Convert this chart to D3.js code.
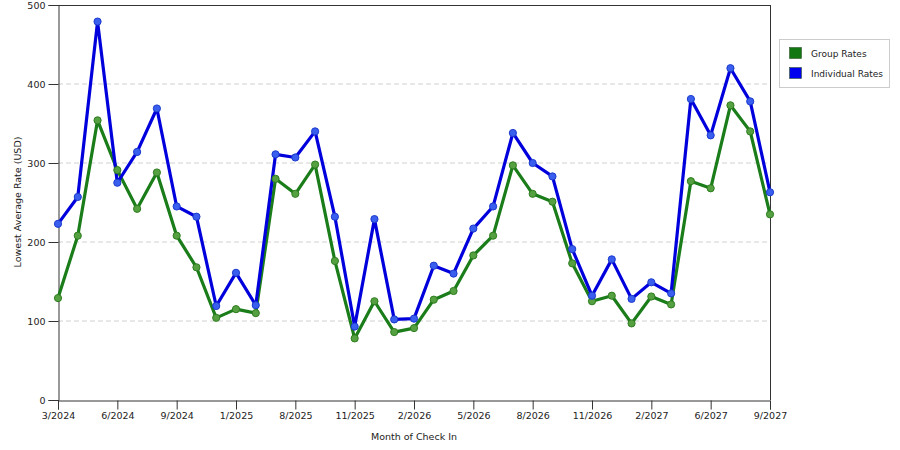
<!DOCTYPE html>
<html><head><meta charset="utf-8">
<script src="https://cdn.jsdelivr.net/npm/d3@7"></script>
<style>body{margin:0;background:#fff;font-family:"DejaVu Sans",Verdana,sans-serif;}</style>
</head><body><svg id="c" width="900" height="450"></svg>
<script>
const months = ["3/2024","4/2024","5/2024","6/2024","7/2024","8/2024","9/2024","10/2024","11/2024","1/2025","2/2025","7/2025","8/2025","9/2025","10/2025","11/2025","12/2025","1/2026","2/2026","3/2026","4/2026","5/2026","6/2026","7/2026","8/2026","9/2026","10/2026","11/2026","12/2026","1/2027","2/2027","3/2027","5/2027","6/2027","7/2027","8/2027","9/2027"];
const groupRates = [129,208,354,291,242,288,208,168,104,115,110,280,261,298,176,78,125,86,91,127,138,183,208,297,261,251,173,125,132,97,131,121,277,268,373,340,235];
const individualRates = [223,257,479,275,314,369,245,232,119,161,120,311,307,340,232,93,229,102,103,170,160,217,245,338,300,283,191,132,178,128,149,135,381,335,420,378,263];
const yTicks = [0,100,200,300,400,500];
const seriesNames = ["Group Rates","Individual Rates"];

const svg = d3.select("#c");
const m = {l:58, r:770, t:5, b:400};
const x = d3.scalePoint().domain(months).range([m.l, m.r]);
const y = d3.scaleLinear().domain([0,500]).range([m.b, m.t]);
const font = "DejaVu Sans, Verdana, sans-serif";

// gridlines
svg.append("g").selectAll("line").data(yTicks.filter(d=>d>0 && d<500)).join("line")
  .attr("x1", m.l).attr("x2", m.r).attr("y1", d=>y(d)).attr("y2", d=>y(d))
  .attr("stroke", "#d0d0d0").attr("stroke-dasharray", "5,3").attr("stroke-width", 1);

// frame top/right
svg.append("line").attr("x1", m.l).attr("x2", m.r).attr("y1", m.t+0.5).attr("y2", m.t+0.5).attr("stroke", "#333");
svg.append("line").attr("x1", m.r+0.5).attr("x2", m.r+0.5).attr("y1", m.t).attr("y2", m.b).attr("stroke", "#333");

// axes
const yAxis = svg.append("g").attr("transform", `translate(${m.l+0.5},0)`)
  .call(d3.axisLeft(y).tickValues(yTicks).tickSize(10).tickPadding(3));
const xAxis = svg.append("g").attr("transform", `translate(0,${m.b+0.5})`)
  .call(d3.axisBottom(x).tickValues(months.filter((d,i)=>i%3===0)).tickSize(9).tickPadding(3));
[yAxis, xAxis].forEach(a=>{
  a.select(".domain").attr("stroke", "#333");
  a.selectAll(".tick line").attr("stroke", "#333");
  a.selectAll("text").attr("fill", "#222").style("font-family", font).style("font-size", "9.5px");
});

// titles
svg.append("text").attr("x", 414).attr("y", 440).attr("text-anchor", "middle")
  .style("font-family", font).style("font-size", "9.5px").attr("fill", "#222").text("Month of Check In");
svg.append("text").attr("transform", "translate(21,202) rotate(-90)").attr("text-anchor", "middle")
  .style("font-family", font).style("font-size", "9.5px").attr("fill", "#222").text("Lowest Average Rate (USD)");

// series
const series = [
  {name: seriesNames[0], vals: groupRates, line: "#1a7d1a", fill: "#55a040", stroke: "#2e7d20"},
  {name: seriesNames[1], vals: individualRates, line: "#0000dd", fill: "#3a5fee", stroke: "#1a3acc"}
];
const line = d3.line().x((d,i)=>x(months[i])).y(d=>y(d));
series.forEach(s=>{
  svg.append("path").datum(s.vals).attr("d", line).attr("fill", "none")
    .attr("stroke", s.line).attr("stroke-width", 3.2).attr("stroke-linejoin", "round");
});
series.forEach(s=>{
  svg.append("g").selectAll("circle").data(s.vals).join("circle")
    .attr("cx", (d,i)=>x(months[i])).attr("cy", d=>y(d)).attr("r", 3.6)
    .attr("fill", s.fill).attr("stroke", s.stroke).attr("stroke-width", 1);
});

// legend
const lg = svg.append("g");
lg.append("rect").attr("x", 779.5).attr("y", 39.5).attr("width", 110).attr("height", 48)
  .attr("fill", "#fff").attr("stroke", "#ccc");
const legendColors = ["#117711", "#0000ee"];
seriesNames.forEach((n,i)=>{
  lg.append("rect").attr("x", 789.5).attr("y", 47.5 + i*20).attr("width", 12).attr("height", 11)
    .attr("fill", legendColors[i]).attr("stroke", "#335533").attr("stroke-width", 0.6);
  lg.append("text").attr("x", 811).attr("y", 57 + i*20).style("font-family", font)
    .style("font-size", "9px").attr("fill", "#222").text(n);
});
</script></body></html>
